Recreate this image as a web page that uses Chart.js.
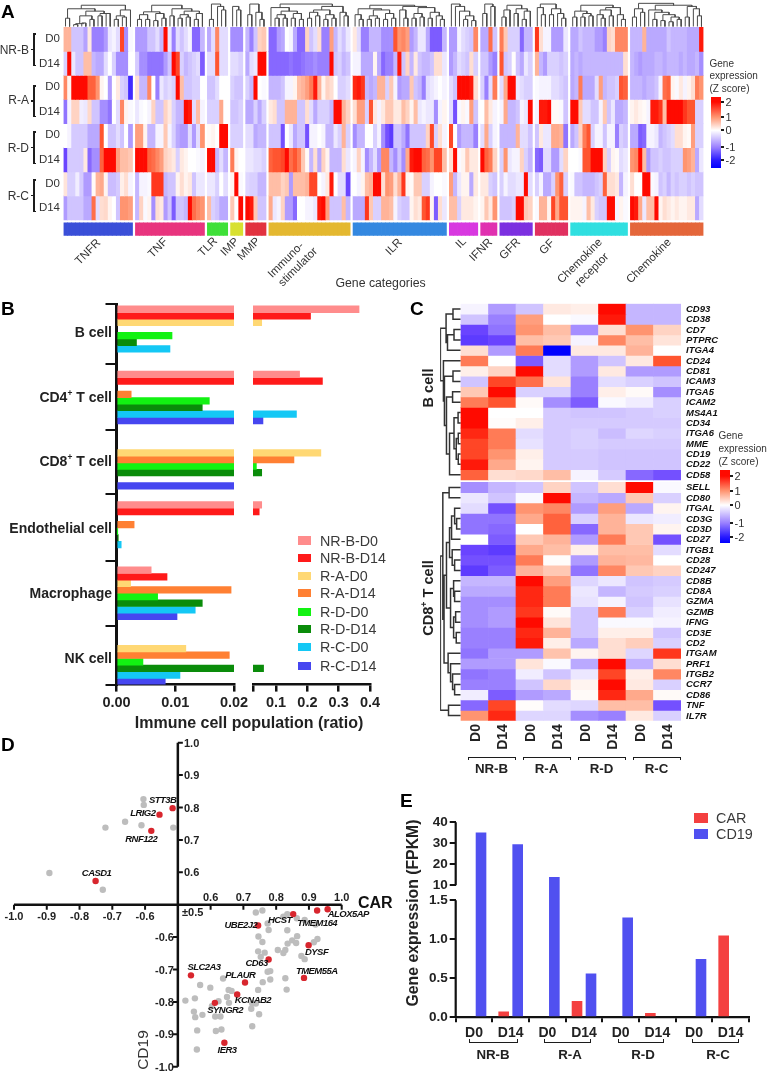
<!DOCTYPE html>
<html>
<head>
<meta charset="utf-8">
<title>Immune profiling panels</title>
<script src="https://cdn.jsdelivr.net/npm/chart.js@4/dist/chart.umd.js"></script>
<style>
body { margin: 0; background: #fff; }
#page { position: relative; width: 768px; height: 1072px; overflow: hidden; font-family: 'Liberation Sans', Arial, sans-serif; color: #333; }
canvas { position: absolute; left: 0; top: 0; }
.t { position: absolute; white-space: nowrap; line-height: 1; }
.b { position: absolute; }
sup { font-size: .6em; line-height: 0; }
</style>
</head>
<body>
<div id="page"></div>
<script>
// Panel A: gene categories, z scores per sample (one inner list per category)
const geneGroups = ['TNFR', 'TNF', 'TLR', 'IMP', 'MMP', 'Immuno', 'ILR', 'IL', 'IFNR', 'GFR', 'GF', 'Chemokine receptor', 'Chemokine'];
const nrbD0 = [
  [.7,.7,-.5,-.5,-.5,-.75,.2,-1,-1,-1,-.8,-.2,-.1,-.3,1.6,-.9,-.05],
  [-.8,-.8,-.8,-.5,-.5,-.3,-.6,2,-.2,-1,-.3,-.5,-.3,-.1,-1.2,-1.2,-.6],
  [-.7,-.3,1.1,-.3,-.3], [-.9,-.9,-.9], [-.6,-1,-.5,.4,.5],
  [-1.2,-1.2,-.8,-.7,0,-.1,-.7,-1.2,-1.2,.4,-.5,-.3,.3,-1,-1,.9,-.6,-.3,-.5,-.2],
  [.2,-.3,-1,-1,-.6,-.6,-.6,-.9,-.9,-.9,1.5,1,1.1,.9,-.8,-.6,-.2,-.2,-.7,-1.3,-1.3,-1.3,-.6],
  [-.8,-.8,-.1,-.3,-.4,-.5,1.1], [-.7,-.7,1.3,-.5],
  [1.2,.5,-.4,-.4,-.4,-1.2,-.6,-.6], [1.7,.3,-.1,-.1,-.8,-.8,-.8,-.2],
  [-.7,-.7,-.5,-.6,-.6,-.6,-.8,-.8,-1,.4,.3,1.1,1.1,1.1],
  [-.6,-.6,-.6,.7,-.7,-.7,-.7,-.7,-.7,-.5,-.6,-.6,-.6,-.6,-.7,-.7,-.7,1.9]
];
const nrbD14 = [
  [-.4,2,-.2,-.5,-.5,.6,.6,-.6,-.7,-.7,-.3,0,-.4,-.9,-.9,-.9,0],
  [-.45,-.9,-.9,-1.1,-1.1,-1.1,-1.1,-.8,-.5,2,1.6,-.4,-.6,-.5,-.4,-.3,-1.3],
  [-.3,-.3,1.5,-.3,-.3], [-.3,-.3,-.4], [-.7,-.3,-.2,2,2],
  [-1.2,-1.2,-1.2,-1.2,-1.2,-1.1,-1.2,-1.2,-1.1,-1,-1,-.9,-1,-1,-1,2,-.5,-.4,-.6,-.5],
  [-.1,-.1,-.7,-.7,-.7,.1,-.7,-1.2,-1,-1,-.6,1.9,-.5,.4,-.6,.2,-.5,-.6,-.6,-.5,.3,.3,-.2],
  [-.8,-.6,-.3,-.4,-.5,.3,-.4], [-.5,-.5,-.8,-1],
  [1.5,-.5,-.4,.02,-.5,-.7,-.2,-.4], [.7,-.6,-.8,-.4,-.4,-.4,-.5,-.4],
  [-.7,-.6,-.7,-.6,-.6,-.6,-.6,-.6,-.6,-.6,-.6,-.6,-.6,.3],
  [-.6,-.7,-.8,-.7,-.7,-.7,-.6,-.6,-.7,-.6,-.6,-.6,-.7,-.6,-.7,-.7,-.6,-.9]
];
const raD0 = [
  [1.1,.1,2,2,2,2,1.4,1.4,1,.1,0,-.8,0,.2,-.4,-.5,-1.8],
  [.3,-.6,-.6,1.1,0,-1,-.2,-.4,-.3,-.4,2,.6,-.5,-.5,-.4,-.4,0],
  [-.5,-.5,-.3,0,0], [-.4,-.5,-.5], [-.4,-.6,2,0,-.05],
  [-.6,-.6,-.6,-.5,-.1,-.1,.1,.6,.7,.9,1.2,1.9,.7,.1,.4,.3,0,-.4,-.4,-.3],
  [1.8,1.9,1.7,-.6,-.7,-.6,.7,.7,-.4,.5,-.1,-.8,-.7,-.7,.5,-.5,-.6,-1,-.3,-.2,-.1,0,-.1],
  [-.3,-.5,2,2,2,1.9,.3], [-.4,-1,-.3,1.2],
  [-.3,.8,2,2,-.2,-.3,-.4,-.4], [-.05,-.1,-.1,-.1,-.3,-.3,-.4,-.5],
  [-.7,-.6,1.2,-.7,-.7,-.7,-.3,.9,-.6,-.5,-.5,-.4,1.5,1.4],
  [-.6,-.6,-.6,-.7,-.6,-.6,-.5,-.1,1.3,1.4,.1,-.05,.2,-.1,.1,.3,1.2,1]
];
const raD14 = [
  [-1.1,-.1,.4,.4,-.15,-.2,.35,-.5,-.5,-.9,-.9,-1.1,0,-.3,1.1,.1,-.05],
  [-.2,-.05,0,-.1,.4,-.5,-.5,.4,.2,-.4,-.6,-.6,2,1.9,-.3,.6,-.1],
  [-.4,-.4,-.4,.8,0], [-.5,-.5,-.4], [-.7,-.7,-.4,-.7,-.4],
  [.2,.3,-.5,-.5,.7,.7,.7,-.5,-.5,.3,-.3,-.7,-.4,-.4,-.4,-.6,2,2,.7,.4],
  [.3,.9,.9,-.4,1.5,.2,-.1,.2,.5,.5,.2,.2,.6,.4,.1,.6,-.2,-.1,-.2,-.2,-.9,-.1,.1],
  [-.3,-1.4,-.05,.1,-.05,.9,-.5], [0,.6,.2,-.1],
  [-.1,.8,-.6,-.6,-.5,-.1,-.2,2], [-.1,1.9,1.9,2,.05,.05,-.05,-.5],
  [2,2,.5,-.3,-.3,-.5,-.5,-.1,.5,-.5,-.2,-.7,-.7,-.6],
  [.1,.2,.1,.05,-.1,1.9,1.9,1.7,.6,2,2,2,2,1.7,1.5,1.5,-.4,-.4]
];
const rdD0 = [
  [0,-.1,-.45,-.45,-.45,-.45,-.7,-.7,-.7,1.5,0,-.5,-.5,-.3,-.5,0,-.8],
  [.9,.9,.1,-.6,-.6,-.1,-.1,.5,-.1,-.4,-.7,-.8,-.8,-.3,-.8,-.3,1],
  [.05,.1,0,2,2], [-.4,-.4,-.4], [-.3,-.3,-.7,-.6,-.6],
  [-.5,-.5,-.5,-1.4,0,-.2,-.7,-.5,-.5,-1.4,-.1,-.1,0,-.1,-.6,-.6,-.2,-.4,.7,-.4],
  [-.9,-.6,-.6,0,0,-.4,-.1,-.9,-1.4,-1.6,-.5,-.5,-.7,-1.1,-.5,-.5,-.5,-.5,.4,1.6,-.4,.3,-.1],
  [1.6,0,-.8,-.6,-.6,-.6,-1], [-.3,.8,-.4,-.1],
  [-.6,-.6,-.6,-.6,.7,-.3,-.3,-.5], [-.5,.2,-.2,-.2,.8,.8,.7,-1.1],
  [-.7,-.5,.4,1.2,1.5,-.4,-.1,-.1,-.5,-.1,-.1,-1,-.4,-.5],
  [-.7,-.7,-1.3,-1.2,-.1,-.1,-.2,-.6,-.5,-.4,-.3,.3,.3,.1,.05,.9,-.4,-.4]
];
const rdD14 = [
  [-1.5,-.45,-.45,-.45,-.45,.2,-1.2,-.9,-.9,1.4,2,2,2,.9,.6,.6,.5],
  [2,2,2,1.4,1.3,1.1,.9,.4,.3,.2,-.4,.2,.1,0,0,-.05,-.1],
  [2,2,-.6,-.3,-.6], [1.2,.1,0], [-.2,-.2,-.3,-.3,-.4],
  [1.4,1.5,1.5,1.6,2,1.3,1.5,1.2,.5,.05,-.6,.3,-.7,.4,.1,-.6,-.6,-.6,.3,-.2],
  [-.1,.4,-.1,-.9,-.6,-.3,-.8,1.1,1.1,-.6,-.9,-.5,-.9,.8,1.9,2,2,1.4,1.3,1,1.6,1.6,.6],
  [.3,2,-.05,.1,.5,.2,.2], [2,1.4,1.2,.4],
  [-.4,1,-.2,-.1,-.1,.4,-.4,-.6], [-1.2,-1.3,-.3,-.3,-.8,-.8,-.3,.4],
  [0,0,-.05,1.5,1.5,2,2,2,.4,-.4,.1,.05,-.3,-.2],
  [1,1.1,2,.6,-.8,-.5,-.5,-.4,-.5,-.5,-.4,-.4,-.4,1,.9,.7,-.7,-.2]
];
const rcD0 = [
  [.25,-.4,-.4,-.15,-.45,-.8,-.8,.05,.7,.8,.1,-.55,-.55,-.45,.15,.3,-.1],
  [-.6,-.1,-.1,-.05,1.7,1.7,1.7,-.6,-.5,-.5,.1,.3,.1,.2,-.5,-.2,-.2],
  [-.2,-.2,-.4,0,-.3], [.1,2,-.05], [-.35,-.4,-.4,-.6,-.6],
  [.6,.6,.6,.4,.5,-.8,.6,.6,.6,.7,1.6,1.6,0,-.1,.2,1.9,0,-.3,-.3,-1.5],
  [0,-.1,.1,.6,.7,2,2,.3,1,.9,.3,.7,1.7,.1,.05,.5,.5,-.4,-.4,-.1,0,0,-.05],
  [.9,-.6,-.2,.1,.1,-.7,.2], [.2,.2,-.4,-.5],
  [-.4,-.1,-.3,-.3,-.2,-.2,2,-.3], [-.4,-.1,-.7,-.7,-.4,1,1.4,-.4],
  [-.05,-.5,-.5,-.6,-.6,-.6,-.5,-.4,1.4,.3,.3,.2,-.6,-.1],
  [.3,0,0,2,2,-.05,-.1,-.5,-.4,-.6,-.4,-.5,-.4,-.4,-.5,-.4,-.5,-.5]
];
const rcD14 = [
  [-.8,-.5,-.5,-.5,-.5,-.7,-.7,1.3,-.3,.3,.35,.1,0,-.5,1,1,.9],
  [-.6,.4,-.05,.1,-.9,.3,.2,-.8,-.5,-1.3,-.5,-.5,-.6,2,1.3,1.1,1],
  [.6,-.4,-.5,-.7,-.7], [.5,0,2], [2,1.9,.5,-.5,-.5],
  [.8,-.2,-.1,.4,-.8,-.8,-1.2,0,0,-.1,-.1,-.2,1.9,2,.9,-.5,-.5,-.5,.6,-.6],
  [-.7,-.7,-.7,1.7,.5,-.4,-.4,.7,.7,.6,-.1,-.4,-.5,-.5,.1,.3,.2,1.5,1.7,.1,-1.3,.3,-.2],
  [.6,.6,-.4,.2,.2,.2,.1], [.1,.5,.2,1],
  [-.5,-.5,-.5,-.4,2,2,.5,.4], [-.05,.7,.7,.1,1.6,.8,1.5,1.5],
  [.1,.1,.1,-.1,.6,.2,-.4,-.5,-.5,2,2,-.1,.1,-.05],
  [2,1.9,.8,-.2,.6,.6,2,.1,.3,.2,.1,.2,.1,.1,.2,.2,-.7,-.3]
];
// dendrograms: [height, left, right], 0 is a leaf
const treesA = [
  [.9,[.75,[.35,0,0],[.65,[.45,[.12,[.08,0,0],[.15,0,0]],[.3,0,0]],[.55,[.45,0,0],[.55,0,0]]]],[.7,[.45,[.3,0,0],[.4,0,0]],0]],
  [.9,[.62,[.5,[.3,0,0],[.3,0,0]],[.55,[.25,0,0],[.35,0,0]]],[.75,[.45,0,0],[.65,[.5,[.35,0,0],[.4,0,0]],[.55,[.3,0,0],0]]]],
  [.95,[.3,0,0],[.85,0,[.7,0,0]]],
  [.85,0,[.7,0,0]],
  [.95,[.5,0,0],[.6,0,[.3,0,0]]],
  [.95,[.8,0,[.65,[.5,[.35,0,0],[.35,0,0]],[.55,[.35,0,0],[.3,0,0]]]],[.85,[.7,[.6,[.35,0,0],[.45,0,0]],[.5,[.3,0,0],[.35,0,0]]],[.6,0,[.45,0,0]]]],
  [.9,[.75,[.5,0,[.3,0,0]],[.7,[.45,[.3,0,0],[.35,0,0]],[.55,[.3,0,0],[.35,0,0]]]],[.85,[.7,0,[.35,0,0]],[.8,[.55,[.35,0,0],[.4,0,0]],[.6,[.35,0,0],[.45,0,[.3,0,0]]]]]],
  [.95,0,[.85,0,[.65,0,[.45,[.3,0,0],[.25,0,0]]]]],
  [.95,[.55,0,0],[.85,0,0]],
  [.9,[.7,[.4,0,0],0],[.75,[.55,0,0],[.65,[.3,0,0],0]]],
  [.95,[.8,0,[.5,0,0]],[.75,[.5,0,0],[.55,0,[.35,0,0]]]],
  [.9,[.65,[.4,0,0],[.55,[.4,0,0],[.45,0,0]]],[.8,[.7,[.5,0,[.35,0,0]],[.45,0,0]],[.5,0,[.3,0,0]]]],
  [.98,[.75,[.4,0,0],[.6,0,0]],[.9,[.7,0,[.6,[.3,0,0],[.5,[.25,0,0],[.4,[.2,0,0],[.3,0,0]]]]],[.85,[.4,0,0],[.75,0,[.45,0,0]]]]]
];
const groupColors = ['#3a4fd8','#e8347e','#3ee038','#d8e030','#e2323f','#e4b830','#3488e0','#d838e0','#e030b0','#7c30e0','#e03060','#30dfe0','#e4663a'];

// Panel B: ratio per category (B, CD4, CD8, Endothelial, Macrophage, NK)
const cellTypes = ['B cell', 'CD4<sup>+</sup> T cell', 'CD8<sup>+</sup> T cell', 'Endothelial cell', 'Macrophage', 'NK cell'];
const sampleNames = ['NR-B-D0', 'NR-B-D14', 'R-A-D0', 'R-A-D14', 'R-D-D0', 'R-D-D14', 'R-C-D0', 'R-C-D14'];
const sampleColors = ['#ff8c8c', '#ff1a1a', '#ffd874', '#ff8033', '#12f212', '#0a8c0a', '#14c8f5', '#4646f0'];
const ratioNrbD0 = [.365, .175, 0, .054, .0059, 0];
const ratioNrbD14 = [.21, .248, 0, .046, .0086, 0];
const ratioRaD0 = [.054, 0, .243, 0, .0024, .0118];
const ratioRaD14 = [0, .0025, .157, .003, .0195, .0192];
const ratioRdD0 = [.00945, .0158, .037, .0001, .007, .0045];
const ratioRdD14 = [.0034, .0146, .054, .0003, .0146, .06];
const ratioRcD0 = [.0091, .165, 0, .0008, .0134, .0108];
const ratioRcD14 = [0, .058, .0205, 0, .0103, .0083];

// Panel C: z scores per gene, columns NR-B D0/D14, R-A, R-D, R-C
const bCellGenes = ['CD93','CD38','CD7','PTPRC','ITGA4','CD24','CD81','ICAM3','ITGA5','ICAM2','MS4A1','CD34','ITGA6','MME','CD19','CD22','CD58'];
const bCellZ = [
  [-.1,-.8,-.5,.2,.15,2,-.6,-.6],
  [-.5,-1,.9,0,-.05,1.9,-.6,-.6],
  [-1.5,-1.1,1,.6,-.9,.3,1,.4],
  [-1.6,-1.5,.6,.5,-.1,1.1,.6,.25],
  [.3,-.8,1.2,-2.4,.2,.2,.7,0],
  [1.2,0,-1.3,-.3,-.8,-.5,.2,1.5],
  [.15,.4,2,-.3,-.8,.2,-.8,-.8],
  [-.5,1.6,1.3,.25,-1,-.3,-.4,-.5],
  [.5,2,-.4,-.4,-1,.15,.05,-.9],
  [1.2,1.5,.05,-.9,-1.3,-.05,-.15,-.4],
  [2.1,0,0,-.45,-.5,-.5,-.45,-.4],
  [2.1,.03,.15,-.45,-.45,-.45,-.45,-.45],
  [1.8,1.2,-.3,-.45,-.4,-.55,-.35,-.4],
  [1.6,1.2,-.25,-.45,-.4,-.45,-.45,-.45],
  [1.6,1,.15,-.45,-.45,-.5,-.5,-.5],
  [1.9,.8,.1,-.45,-.45,-.5,-.5,-.5],
  [1.4,.3,.35,.6,-.1,-.45,-1.2,-1.4]
];
const tCellGenes = ['SELL','CD80','ITGAL','CD3G','CD3D','CD27','ITGB1','CD28','CD247','CD8B','CD8A','GZMA','GZMB','IFNG','CD3E','CD2','ITGAM','PRF1','ITGB2','CCR7','CD86','TNF','IL7R'];
const tCellZ = [
  [-.9,-.6,-.5,.4,-.5,.3,2,-.05],
  [-.2,-.5,-.05,2,-.6,-.7,.5,-.4],
  [-.3,-1.4,1,1.1,-.8,.9,-.7,.1],
  [-1.1,-1.1,.8,1.4,-.4,.7,-.2,-.15],
  [-1.1,-1.2,0,1.4,-1.2,.7,.5,.1],
  [0,-1.3,.5,.7,-.8,1.2,.5,-1.4],
  [-1.5,-1.6,.8,.6,.15,.6,.6,-.3],
  [-1.4,-1.4,1.2,.03,-.8,.7,.65,0],
  [-1.6,-1.3,.7,.5,-1.1,1.1,.5,.4],
  [-.6,-.6,2.1,.9,-.35,-.2,-.5,-.45],
  [-.7,-.7,1.8,1.2,-.2,-.6,-.45,-.4],
  [-.9,-.9,1.8,1.2,-.25,-.1,-.5,-.25],
  [-.9,-.8,1.7,.05,-.5,1.2,-.4,-.15],
  [-.9,-.8,2.2,.25,-.5,-.05,-.05,-.1],
  [-1,-1,1.8,.7,-.5,.15,.15,-.5],
  [-1,-1,1.9,.15,-.7,.3,.45,-.4],
  [-1.1,-.8,-.8,.55,.1,.3,-.35,1.7],
  [-.8,-.8,.25,-.05,-.7,2.1,-.65,.3],
  [-1.1,-1,-.15,-.5,-.2,1.6,.15,1.1],
  [-1,-1,-.5,.35,.1,2.1,.2,-.4],
  [-.15,-1.3,-.8,-.7,.05,1.8,.8,.05],
  [-1.2,1.6,.03,-.3,-.35,.6,.6,-1.4],
  [1,1.8,-.35,-.35,-.9,-1,.2,-.4]
];
const treeB = [1,[.72,[.38,0,0],[.65,[.33,0,0],0]],[.85,0,[.8,[.38,0,0],[.7,[.4,0,0],[.55,[.33,[.13,0,0],[.22,[.12,0,0],[.12,0,0]]],0]]]]];
const treeT = [1,[.88,[.57,0,0],[.82,[.7,[.55,[.45,[.3,0,[.2,0,0]],0],[.42,0,[.3,0,0]]],[.5,[.35,0,[.3,0,0]],[.35,[.25,0,0],[.22,0,0]]]],[.62,0,[.5,0,[.4,0,[.3,0,0]]]]]],[.6,0,0]];
const columnLabels = ['D0', 'D14', 'D0', 'D14', 'D0', 'D14', 'D0', 'D14'];
const patients = ['NR-B', 'R-A', 'R-D', 'R-C'];

// Panel D: correlation with CAR (x) and CD19 (y)
const redGenes = ['STT3B','LRIG2','RNF122','CASD1','UBE2J2','HCST','TMEM164','ALOX5AP','DYSF','CD63','SLC2A3','PLAUR','TMEM55A','KCNAB2','SYNGR2','IER3'];
const redCar = [-.516,-.556,-.581,-.751,.745,.852,.925,.957,.899,.777,.54,.705,.885,.681,.613,.642];
const redCd19 = [.798,.778,.728,.573,-.564,-.529,-.518,-.514,-.625,-.669,-.718,-.74,-.726,-.777,-.803,-.926];
const grayCar = [-.605,-.604,-.661,-.721,-.611,-.514,-.892,-.729,.738,.758,.834,.822,.863,.774,.777,.834,.92,.887,.746,.758,.864,.849,.835,.861,.926,.915,.745,.765,.805,.828,.822,.753,.877,.887,.774,.782,.828,.782,.759,.638,.568,.599,.745,.832,.655,.664,.65,.624,.656,.552,.523,.604,.549,.553,.575,.614,.63,.724,.748,.738,.727,.559,.616,.633,.727,.558];
const grayCd19 = [.826,.808,.756,.738,.745,.738,.598,.546,-.524,-.518,-.529,-.537,-.542,-.558,-.578,-.579,-.561,-.547,-.598,-.615,-.597,-.61,-.62,-.618,-.606,-.616,-.644,-.648,-.64,-.64,-.649,-.661,-.658,-.668,-.707,-.705,-.727,-.731,-.739,-.728,-.748,-.756,-.763,-.762,-.763,-.766,-.785,-.798,-.803,-.789,-.796,-.813,-.83,-.847,-.84,-.845,-.845,-.821,-.838,-.805,-.805,-.888,-.89,-.885,-.875,-.947];
const axisTicksD = [.6, .7, .8, .9, 1];

// Panel E: FPKM
const sampleDays = ['D0', 'D14', 'D0', 'D14', 'D0', 'D14', 'D0', 'D14'];
const carFpkm = [0, .073, 0, .21, 0, .056, 0, 1.047];
const cd19Fpkm = [35.1, 29.5, 14, .56, 1.278, 0, .748, 0];
const fpkmTicks = [0, .5, 1, 1.5, 10, 20, 30, 40];
const fpkmTickLabels = ['0.0', '0.5', '1.0', '1.5', '10', '20', '30', '40'];

const page = document.getElementById('page');
const INK = '#1c1c1c';

function label(html, x, y, o = {}) {
  const d = document.createElement('div');
  d.className = 't';
  d.innerHTML = html;
  const dx = o.align === 'left' ? '0' : o.align === 'right' ? '-100%' : '-50%';
  d.style.left = x + 'px';
  d.style.top = y + 'px';
  d.style.fontSize = (o.size || 12) + 'px';
  if (o.bold) d.style.fontWeight = 'bold';
  if (o.italic) d.style.fontStyle = 'italic';
  if (o.color) d.style.color = o.color;
  if (o.spacing) d.style.letterSpacing = o.spacing + 'px';
  d.style.transform = 'translate(' + dx + ',-50%)' + (o.rot ? ' rotate(' + o.rot + 'deg)' : '');
  page.appendChild(d);
}

function box(x, y, w, h, color) {
  const d = document.createElement('div');
  d.className = 'b';
  d.style.cssText = 'left:' + x + 'px;top:' + y + 'px;width:' + w + 'px;height:' + h + 'px;background:' + color;
  page.appendChild(d);
}

function zColor(v) {
  const stops = [[-2.3,0,0,255],[-1.5,106,68,255],[-1,154,128,255],[-.5,208,196,255],[0,255,255,255],[.5,255,200,180],[1,255,148,112],[1.5,255,85,48],[2,255,10,0]];
  if (v <= stops[0][0]) return 'rgb(0,0,255)';
  for (let i = 1; i < stops.length; i++) {
    if (v <= stops[i][0]) {
      const a = stops[i - 1], b = stops[i], f = (v - a[0]) / (b[0] - a[0]);
      return 'rgb(' + [1, 2, 3].map(k => Math.round(a[k] + (b[k] - a[k]) * f)).join(',') + ')';
    }
  }
  return 'rgb(255,10,0)';
}

// chart area in page pixels, every canvas covers the whole page
// axisLeft/axisBottom: room kept for an axis that has tick labels
function chartOn(rect, config, axisLeft = 0, axisBottom = 0) {
  const c = document.createElement('canvas');
  c.width = 768;
  c.height = 1072;
  c.style.width = '768px';
  c.style.height = '1072px';
  page.appendChild(c);
  config.options = Object.assign({
    responsive: false,
    animation: false,
    events: [],
    layout: { padding: { left: rect[0] - axisLeft, top: rect[1], right: 768 - rect[2], bottom: 1072 - rect[3] - axisBottom } }
  }, config.options);
  config.options.plugins = Object.assign({ legend: { display: false }, tooltip: { enabled: false } }, config.options.plugins);
  return new Chart(c, config);
}

function countLeaves(n) { return n === 0 ? 1 : countLeaves(n[1]) + countLeaves(n[2]); }

// walks a tree, gives a flat list of [leafA, hA, leafB, hB, h] links
function treeLinks(node, out, next) {
  if (node === 0) return { at: next.i++, h: 0 };
  const l = treeLinks(node[1], out, next), r = treeLinks(node[2], out, next);
  out.push([l.at, l.h, r.at, r.h, node[0]]);
  return { at: (l.at + r.at) / 2, h: node[0] };
}

function treePoints(tree, toPoint) {
  const links = [];
  treeLinks(tree, links, { i: 0 });
  const pts = [];
  links.forEach(k => {
    pts.push(toPoint(k[0], k[1]), toPoint(k[0], k[4]), toPoint(k[2], k[4]), toPoint(k[2], k[3]), { x: NaN, y: NaN });
  });
  return pts;
}

function heatRowSet(values, xs, y0, thickness) {
  return {
    type: 'bar', grouped: false, barThickness: thickness, borderWidth: 0,
    data: values.map((v, i) => ({ x: xs[i], y: [y0, y0 + 1] })),
    backgroundColor: values.map(zColor)
  };
}

const hiddenLinear = (min, max, extra) => Object.assign({ type: 'linear', display: false, min, max, offset: false }, extra);

// ---------- Panel A ----------
const heatA = [nrbD0, nrbD14, raD0, raD14, rdD0, rdD14, rcD0, rcD14];
const GROUP_GAP = .72;
const groupStart = [];
let colCount = 0;
nrbD0.forEach((g, i) => { groupStart.push(colCount + i * GROUP_GAP); colCount += g.length; });
const xSpan = colCount + (nrbD0.length - 1) * GROUP_GAP;
const datasetsA = [];
heatA.forEach((row, r) => {
  const xs = [], vals = [];
  row.forEach((g, gi) => g.forEach((v, i) => { xs.push(groupStart[gi] + i + .5); vals.push(v); }));
  datasetsA.push(heatRowSet(vals, xs, r, 4.1));
});
// category strip under the heat map
const stripXs = [], stripColors = [];
nrbD0.forEach((g, gi) => g.forEach((v, i) => { stripXs.push(groupStart[gi] + i + .5); stripColors.push(groupColors[gi]); }));
datasetsA.push({ type: 'bar', grouped: false, barThickness: 4.1, borderWidth: 0, data: stripXs.map(x => ({ x, y: [8.12, 8.64] })), backgroundColor: stripColors });
treesA.forEach((tree, gi) => {
  const n = nrbD0[gi].length, step = n / countLeaves(tree);
  datasetsA.push({
    type: 'scatter', showLine: true, pointRadius: 0, borderColor: '#4a4a4a', borderWidth: 1,
    data: treePoints(tree, (leaf, h) => ({ x: groupStart[gi] + (leaf + .5) * step, y: -.03 - h * .98 }))
  });
});
chartOn([63.5, 1.9, 703.5, 236.9], {
  type: 'bar',
  data: { datasets: datasetsA },
  options: { scales: { x: hiddenLinear(0, xSpan), y: hiddenLinear(-1.05, 8.7, { reverse: true }) } }
});

const panelFont = { size: 19, bold: true, color: '#000', align: 'left' };
label('A', 1, 11, panelFont);
[['NR-B', 50, 33, 66], ['R-A', 100, 85, 117], ['R-D', 148, 131, 164], ['R-C', 196, 179, 212]].forEach((p, i) => {
  label(p[0], 29, p[1], { size: 12, align: 'right' });
  box(33, p[2], 2, p[3] - p[2], INK);
  box(33, p[2], 3, 1.5, INK);
  box(33, p[3] - 1.5, 3, 1.5, INK);
  box(31, (p[2] + p[3]) / 2 - .7, 2, 1.5, INK);
  label('D0', 60, 39 + i * 48.2, { size: 11.5, align: 'right' });
  label('D14', 60, 63.5 + i * 48.2, { size: 11.5, align: 'right' });
});
[['TNFR', 88, 252], ['TNF', 158, 248], ['TLR', 208, 247], ['IMP', 230, 247], ['MMP', 249, 249], ['Immuno-', 286, 260], ['stimulator', 298, 267],
 ['ILR', 394, 247], ['IL', 461, 243], ['IFNR', 481, 250], ['GFR', 510, 249], ['GF', 547, 247], ['Chemokine', 580, 261], ['receptor', 592, 270], ['Chemokine', 649, 261]]
  .forEach(p => label(p[0], p[1], p[2], { size: 11.5, rot: -45 }));
label('Gene categories', 380.5, 283, { size: 12.3 });

function zLegend(x, textY, barTop, barBottom, ticksY) {
  ['Gene', 'expression', '(Z score)'].forEach((s, i) => label(s, x, textY + i * 12.8, { size: 10, align: 'left' }));
  const bx = x + 1, pct = y => ((y - barTop) / (barBottom - barTop) * 100).toFixed(1) + '%';
  const d = document.createElement('div');
  d.className = 'b';
  d.style.cssText = 'left:' + bx + 'px;top:' + barTop + 'px;width:10.5px;height:' + (barBottom - barTop) + 'px';
  const vals = [2, 1, 0, -1, -2];
  d.style.background = 'linear-gradient(to bottom,' + zColor(2.2) + ' 0%,' +
    vals.map((v, i) => zColor(v) + ' ' + pct(ticksY[i])).join(',') + ',' + zColor(-2.4) + ' 100%)';
  page.appendChild(d);
  vals.forEach((v, i) => {
    box(bx + 10.5, ticksY[i] - .7, 2.5, 1.5, INK);
    label(String(v), bx + 15, ticksY[i], { size: 11, align: 'left' });
  });
}
zLegend(709.5, 63.5, 96.7, 167.7, [101.7, 116.7, 130, 147, 160]);

// ---------- Panel B ----------
const ratioSeries = [ratioNrbD0, ratioNrbD14, ratioRaD0, ratioRaD14, ratioRdD0, ratioRdD14, ratioRcD0, ratioRcD14];
const RIGHT_MIN = .0262;
const boundaryTicks = [.07, .99, 2, 2.98, 4, 5, 5.9];
const tickFont = { family: "'Liberation Sans'", size: 14.5, weight: 'bold' };
const bSets = keep => ratioSeries.map((s, i) => ({
  barThickness: 6.6, borderWidth: 0, backgroundColor: sampleColors[i],
  data: s.map((v, k) => ({ x: keep(v) ? v : null, y: k + .5 }))
}));
const bXAxis = (min, max, ticks, names) => ({
  type: 'linear', min, max,
  afterBuildTicks: s => { s.ticks = ticks.map(value => ({ value })); },
  afterFit: s => { s.height = 30; },
  border: { color: '#111', width: 2.5 },
  grid: { drawOnChartArea: false, color: '#111', lineWidth: 2.5, tickLength: 7 },
  ticks: { color: '#222', font: tickFont, padding: 3, autoSkip: false, maxRotation: 0, callback: (v, i) => names[i] }
});
chartOn([116.5, 304.3, 234, 684.6], {
  type: 'bar',
  data: { datasets: bSets(v => v > 0) },
  options: {
    indexAxis: 'y',
    scales: {
      x: bXAxis(0, .02, [0, .01, .02], ['0.00', '0.01', '0.02']),
      y: {
        type: 'linear', min: .07, max: 5.9, reverse: true, offset: false,
        afterBuildTicks: s => { s.ticks = boundaryTicks.map(value => ({ value })); },
        afterFit: s => { s.width = 0; },
        border: { color: '#111', width: 3 },
        grid: { offset: false, drawOnChartArea: false, color: '#111', lineWidth: 2, tickLength: 11 },
        ticks: { callback: () => '', autoSkip: false }
      }
    }
  }
}, 0, 30);
chartOn([253, 304.3, 370, 684.6], {
  type: 'bar',
  data: { datasets: bSets(v => v > RIGHT_MIN) },
  options: {
    indexAxis: 'y',
    scales: {
      x: bXAxis(RIGHT_MIN, .4, [RIGHT_MIN, .1, .2, .3, .4], ['', '0.1', '0.2', '0.3', '0.4']),
      y: hiddenLinear(.07, 5.9, { reverse: true })
    }
  }
}, 0, 30);
label('B', 1, 308, panelFont);
[332, 397, 461, 527.5, 593, 658].forEach((y, i) => label(cellTypes[i], 112, y, { size: 14, bold: true, align: 'right', color: '#222' }));
label('Immune cell population (ratio)', 249, 723, { size: 16, bold: true, color: '#222' });
[540.5, 558.3, 575.7, 593.3, 611.7, 629.3, 646.7, 666].forEach((y, i) => {
  box(297.5, y - 4.2, 13.5, 8.4, sampleColors[i]);
  label(sampleNames[i], 320, y, { size: 14.3, align: 'left', color: '#3a3a3a' });
});

// ---------- Panel C ----------
const T_ROW0 = 17.23;
const columnXs = columnLabels.map((s, i) => i + .5);
const datasetsC = [];
bCellZ.forEach((row, r) => datasetsC.push(heatRowSet(row, columnXs, r, 27.5)));
tCellZ.forEach((row, r) => datasetsC.push(heatRowSet(row, columnXs, T_ROW0 + r, 27.5)));
[[treeB, 0], [treeT, T_ROW0]].forEach(p => {
  datasetsC.push({
    type: 'scatter', showLine: true, pointRadius: 0, borderColor: '#333', borderWidth: 1.5,
    data: treePoints(p[0], (leaf, h) => ({ x: -.01 - h * .74, y: p[1] + leaf + .5 }))
  });
});
const chartC = chartOn([440.1, 303.7, 681, 720.7], {
  type: 'bar',
  data: { datasets: datasetsC },
  options: { scales: { x: hiddenLinear(-.76, 8), y: hiddenLinear(0, 40.23, { reverse: true }) } }
});
label('C', 410, 308, panelFont);
const geneFont = { size: 9.5, bold: true, italic: true, align: 'left', color: '#111' };
bCellGenes.forEach((g, r) => label(g, 686, chartC.scales.y.getPixelForValue(r + .5), geneFont));
tCellGenes.forEach((g, r) => label(g, 686, chartC.scales.y.getPixelForValue(T_ROW0 + r + .5), geneFont));
label('B cell', 428, 388, { size: 14.6, bold: true, rot: -90, color: '#222' });
label('CD8<sup>+</sup> T cell', 428, 598, { size: 14.6, bold: true, rot: -90, color: '#222' });
columnLabels.forEach((s, i) => {
  const len = s === 'D0' ? 18.6 : 25.7;
  label(s, chartC.scales.x.getPixelForValue(i + .5), 724 + len / 2, { size: 14, bold: true, rot: -90, color: '#222' });
});
patients.forEach((p, i) => {
  const x0 = 468 + i * 55;
  box(x0, 757, 47.5, 1, INK);
  box(x0, 757, 1, 3, INK);
  box(x0 + 46.5, 757, 1, 3, INK);
  label(p, x0 + 23.5, 769, { size: 13.3, bold: true, color: '#222' });
});
zLegend(718.5, 436, 470, 542.7, [476, 490.7, 505, 522.7, 536.7]);

// ---------- Panel D ----------
const fold = v => (v > 0 ? v - .5 : v + .5);
const crossAxes = {
  id: 'crossAxes',
  afterDraw(chart) {
    const { ctx, chartArea: a, scales: { x, y } } = chart;
    const x0 = x.getPixelForValue(0), y0 = y.getPixelForValue(0);
    ctx.save();
    ctx.strokeStyle = '#111';
    ctx.lineWidth = 2.5;
    ctx.beginPath();
    ctx.moveTo(a.left, y0); ctx.lineTo(a.right, y0);
    ctx.moveTo(x0, a.top); ctx.lineTo(x0, a.bottom);
    ctx.stroke();
    ctx.lineWidth = 2;
    ctx.beginPath();
    axisTicksD.forEach(t => {
      [t, -t].forEach(v => {
        const px = x.getPixelForValue(fold(v)), py = y.getPixelForValue(fold(v));
        ctx.moveTo(px, y0); ctx.lineTo(px, y0 + 5);
        ctx.moveTo(x0, py); ctx.lineTo(x0 + (v > 0 ? 5 : -5), py);
      });
    });
    ctx.stroke();
    ctx.restore();
  }
};
const chartD = chartOn([14, 742.7, 341.7, 1066.7], {
  type: 'scatter',
  data: {
    datasets: [
      { data: redCar.map((v, i) => ({ x: fold(v), y: fold(redCd19[i]) })), backgroundColor: '#d8262e', pointRadius: 3.2, borderWidth: 0 },
      { data: grayCar.map((v, i) => ({ x: fold(v), y: fold(grayCd19[i]) })), backgroundColor: '#bdbdbd', pointRadius: 3.2, borderWidth: 0 }
    ]
  },
  options: { scales: { x: hiddenLinear(-.5, .5), y: hiddenLinear(-.5, .5) } },
  plugins: [crossAxes]
});
label('D', 1, 744, panelFont);
const dFont = { size: 11, bold: true, color: '#222' };
axisTicksD.forEach(t => {
  const px = chartD.scales.x.getPixelForValue(fold(t)), nx = chartD.scales.x.getPixelForValue(fold(-t));
  const py = chartD.scales.y.getPixelForValue(fold(t)), ny = chartD.scales.y.getPixelForValue(fold(-t));
  label(t.toFixed(1), px, 896.5, dFont);
  label('-' + t.toFixed(1), nx, 916, dFont);
  label(t.toFixed(1), 184, py, Object.assign({ align: 'left' }, dFont));
  label('-' + t.toFixed(1), 174, ny, Object.assign({ align: 'right' }, dFont));
});
label('±0.5', 182, 912, Object.assign({ align: 'left' }, dFont));
label('CAR', 358, 902.5, { size: 16, bold: true, align: 'left', color: '#111' });
label('CD19', 143, 1050, { size: 15.5, rot: -90, color: '#333' });
const labelShift = [[-10,-8.6],[-16.7,-1.7],[-10,8.3],[1,-8],[-17.3,-.7],[-13.3,6],[0,12.3],[20.7,4.7],[8,6.3],[-12,4],[13,-8.7],[-4.7,-7],[12.7,-6.7],[15.7,5.3],[10.3,7],[2.7,7.3]];
redGenes.forEach((g, i) => {
  label(g, chartD.scales.x.getPixelForValue(fold(redCar[i])) + labelShift[i][0], chartD.scales.y.getPixelForValue(fold(redCd19[i])) + labelShift[i][1],
    { size: 9.5, bold: true, italic: true, spacing: -.55, color: '#111' });
});

// ---------- Panel E ----------
const foldFpkm = v => (v <= 1.5 ? v : 1.692 + (v - 10) * .0269);
const brokenSpine = {
  id: 'brokenSpine',
  afterDraw(chart) {
    const { ctx, chartArea: a, scales: { y } } = chart;
    ctx.save();
    ctx.strokeStyle = '#111';
    ctx.lineWidth = 2.2;
    ctx.beginPath();
    ctx.moveTo(a.left, y.getPixelForValue(0)); ctx.lineTo(a.left, y.getPixelForValue(foldFpkm(1.5)));
    ctx.moveTo(a.left, y.getPixelForValue(foldFpkm(10))); ctx.lineTo(a.left, y.getPixelForValue(foldFpkm(40)));
    ctx.stroke();
    ctx.restore();
  }
};
chartOn([455.7, 822.3, 749, 1017.3], {
  type: 'bar',
  data: {
    labels: sampleDays,
    datasets: [
      { label: 'CAR', data: carFpkm.map(v => (v ? foldFpkm(v) : null)), backgroundColor: '#f44040' },
      { label: 'CD19', data: cd19Fpkm.map(v => (v ? foldFpkm(v) : null)), backgroundColor: '#5050f0' }
    ]
  },
  options: {
    categoryPercentage: .763,
    barPercentage: .76,
    scales: {
      x: {
        afterFit: s => { s.height = 26; },
        border: { color: '#111', width: 2.2 },
        grid: { offset: true, drawOnChartArea: false, color: '#111', lineWidth: 2, tickLength: 5 },
        ticks: { color: '#222', font: { family: "'Liberation Sans'", size: 14, weight: 'bold' }, padding: 2, autoSkip: false, maxRotation: 0 }
      },
      y: {
        type: 'linear', min: 0, max: 2.499,
        afterBuildTicks: s => { s.ticks = fpkmTicks.map(v => ({ value: foldFpkm(v) })); },
        afterFit: s => { s.width = 36; },
        border: { display: false },
        grid: { drawOnChartArea: false, color: '#111', lineWidth: 2, tickLength: 6 },
        ticks: { color: '#222', font: { family: "'Liberation Sans'", size: 13.5, weight: 'bold' }, padding: 2, autoSkip: false, callback: (v, i) => fpkmTickLabels[i] }
      }
    }
  },
  plugins: [brokenSpine]
}, 36, 26);
label('E', 400, 800, panelFont);
label('Gene expression (FPKM)', 413, 913, { size: 15.8, bold: true, rot: -90, color: '#222' });
[['CAR', '#f44040', 818], ['CD19', '#5050f0', 834]].forEach(p => {
  box(693.5, p[2] - 5, 14.5, 10, p[1]);
  label(p[0], 716, p[2], { size: 14.4, align: 'left', color: '#3a3a3a' });
});
[[469, 517.7, 493], [544, 591, 570], [617.7, 664, 643], [692, 739, 718]].forEach((p, i) => {
  box(p[0], 1041.5, p[1] - p[0], 1, INK);
  box(p[0], 1039, 1, 3, INK);
  box(p[1] - 1, 1039, 1, 3, INK);
  label(patients[i], p[2], 1055, { size: 13.3, bold: true, color: '#222' });
});
</script>
</body>
</html>
